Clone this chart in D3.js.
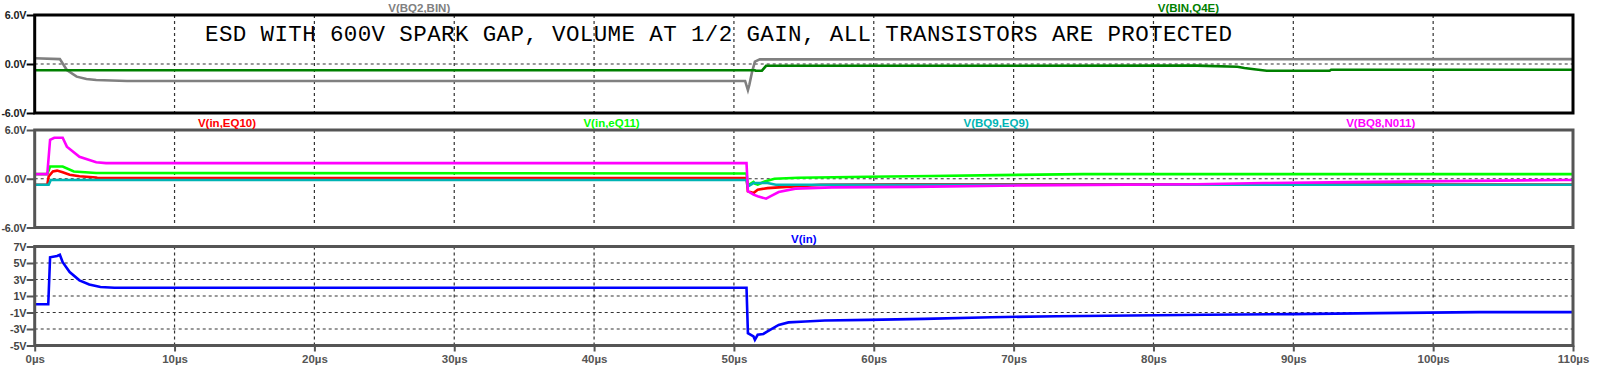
<!DOCTYPE html>
<html><head><meta charset="utf-8">
<script src="https://cdn.jsdelivr.net/npm/d3@7"></script>
<style>
html,body{margin:0;padding:0;background:#fff;}
svg{display:block;}
</style></head>
<body>
<svg id="c" width="1600" height="385"></svg>
<script>
// ---------- DATA ----------
const title = "ESD WITH 600V SPARK GAP, VOLUME AT 1/2 GAIN, ALL TRANSISTORS ARE PROTECTED";
const xTicks = [0,10,20,30,40,50,60,70,80,90,100,110];
const xTickLabels = ["0µs","10µs","20µs","30µs","40µs","50µs","60µs","70µs","80µs","90µs","100µs","110µs"];
const pane1Ticks = [6,0,-6];
const pane1TickLabels = ["6.0V","0.0V","-6.0V"];
const pane2Ticks = [6,0,-6];
const pane2TickLabels = ["6.0V","0.0V","-6.0V"];
const pane3Ticks = [7,5,3,1,-1,-3,-5];
const pane3TickLabels = ["7V","5V","3V","1V","-1V","-3V","-5V"];

// V(BQ2,BIN)
const tBQ2 = [0,1.8,2.3,3.0,3.7,4.4,6.6,50.8,51.0,51.1,51.3,51.5,51.85,110];
const vBQ2 = [0.7,0.6,-0.73,-1.55,-1.84,-1.96,-2.08,-2.08,-3.2,-2.57,-0.94,0.29,0.57,0.6];
// V(BIN,Q4E)
const tBIN = [0,51.5,51.55,52.0,52.3,83.1,86.0,86.5,87.2,88.1,92.6,92.7,110];
const vBIN = [-0.77,-0.77,-0.82,-0.82,-0.22,-0.2,-0.33,-0.5,-0.65,-0.82,-0.82,-0.7,-0.7];
// V(in,EQ10)
const tEQ10 = [0,0.9,1.0,1.3,1.6,2.0,2.5,3.2,4.4,4.5,50.9,51.0,51.4,51.7,52.4,54.3,56.2,62,110];
const vEQ10 = [-0.73,-0.73,0.3,0.9,1.0,0.8,0.5,0.3,0.15,0.08,0.08,-1.55,-1.75,-1.35,-1.15,-0.94,-0.75,-0.68,-0.7];
// V(in,eQ11)
const tEQ11 = [0,0.9,1.1,2.0,2.8,4.4,50.9,51.0,51.4,51.5,51.7,52.2,52.9,54.6,59.6,64.1,68.9,75,110];
const vEQ11 = [0.57,0.57,1.5,1.5,0.9,0.7,0.65,-0.82,-0.4,-0.6,-0.73,-0.33,0.0,0.12,0.24,0.33,0.45,0.57,0.57];
// V(BQ9,EQ9)
const tEQ9 = [0,1.0,1.15,50.9,51.0,51.4,52.4,53,110];
const vEQ9 = [-0.73,-0.73,-0.16,-0.16,-0.94,-0.53,-0.53,-0.73,-0.73];
// V(BQ8,N011)
const tN011 = [0,0.9,1.1,1.4,2.0,2.3,3.2,4.4,5.1,50.9,51.0,51.4,51.7,52.3,52.6,53.2,54.4,57.0,62.9,70.7,83.1,87.9,94.1,101,109.3,110];
const vN011 = [0.57,0.57,4.8,5.05,5.05,3.95,2.7,2.04,1.92,1.92,-1.55,-1.96,-2.16,-2.45,-2.16,-1.63,-1.22,-1.06,-1.0,-0.82,-0.68,-0.53,-0.41,-0.29,-0.16,-0.16];
// V(in)
const tIn = [0,0.97,1.1,1.6,1.8,2.0,2.5,3.2,3.9,4.7,5.7,50.9,51.0,51.4,51.5,51.7,52.1,52.4,53.2,53.9,55.1,56.5,59.6,63.6,68.4,73.1,83.8,89.9,96.1,103.3,110];
const vIn = [0,0,5.7,5.85,6.0,5.1,3.9,2.9,2.4,2.1,2.0,2.0,-3.5,-3.9,-4.3,-3.7,-3.6,-3.3,-2.5,-2.2,-2.1,-1.97,-1.89,-1.77,-1.57,-1.45,-1.28,-1.2,-1.08,-0.96,-0.96];

// ---------- LAYOUT ----------
const svg = d3.select("#c");
const X0 = 34.7, X1 = 1573;
const x = d3.scaleLinear().domain([0,110]).range([X0,X1]);
const panes = [
  {top:15, bot:113, dom:[-6,6], ticks:pane1Ticks, labels:pane1TickLabels, hgrid:[0], border:"#000", lab:"#222",
   series:[{name:"V(BQ2,BIN)", t:tBQ2, v:vBQ2, c:"#808080"},{name:"V(BIN,Q4E)", t:tBIN, v:vBIN, c:"#008000"}]},
  {top:130, bot:227.5, dom:[-6,6], ticks:pane2Ticks, labels:pane2TickLabels, hgrid:[0], border:"#555", lab:"#444",
   series:[{name:"V(in,EQ10)", t:tEQ10, v:vEQ10, c:"#ff0000"},{name:"V(in,eQ11)", t:tEQ11, v:vEQ11, c:"#00ff00"},
           {name:"V(BQ9,EQ9)", t:tEQ9, v:vEQ9, c:"#00b4b4"},{name:"V(BQ8,N011)", t:tN011, v:vN011, c:"#ff00ff"}]},
  {top:246.5, bot:345.5, dom:[-5,7], ticks:pane3Ticks, labels:pane3TickLabels, hgrid:[5,3,1,-1,-3], border:"#555", lab:"#444",
   series:[{name:"V(in)", t:tIn, v:vIn, c:"#0000ff"}]}
];

const font = "'Liberation Sans', Arial, sans-serif";

panes.forEach((p,i) => {
  const y = d3.scaleLinear().domain(p.dom).range([p.bot,p.top]);
  const g = svg.append("g");
  const clipId = "clip"+i;
  svg.append("clipPath").attr("id",clipId).append("rect")
    .attr("x",X0).attr("y",p.top).attr("width",X1-X0).attr("height",p.bot-p.top);

  // vertical grid
  g.selectAll(".vg").data(xTicks.slice(1,-1)).enter().append("line")
    .attr("x1",d=>x(d)).attr("x2",d=>x(d)).attr("y1",p.top).attr("y2",p.bot)
    .attr("stroke","#333").attr("stroke-width",1.2).attr("stroke-dasharray","3,3");
  // horizontal grid
  g.selectAll(".hg").data(p.hgrid).enter().append("line")
    .attr("x1",X0).attr("x2",X1).attr("y1",d=>y(d)).attr("y2",d=>y(d))
    .attr("stroke","#333").attr("stroke-width",1.2).attr("stroke-dasharray","3,3");

  // series
  const line = d3.line().x(d=>x(d[0])).y(d=>y(d[1]));
  p.series.forEach(s => {
    g.append("path").datum(d3.zip(s.t,s.v)).attr("d",line)
      .attr("fill","none").attr("stroke",s.c).attr("stroke-width",2.6)
      .attr("stroke-linejoin","miter").attr("clip-path",`url(#${clipId})`);
  });

  // border
  g.append("rect").attr("x",X0).attr("y",p.top).attr("width",X1-X0).attr("height",p.bot-p.top)
    .attr("fill","none").attr("stroke",p.border).attr("stroke-width",3);

  // y axis ticks + labels
  const ya = d3.axisLeft(y).tickValues(p.ticks).tickFormat((d,k)=>p.labels[k]).tickSize(8).tickPadding(0.5);
  const ag = svg.append("g").attr("transform",`translate(${X0},0)`).call(ya);
  ag.select(".domain").remove();
  ag.selectAll(".tick line").attr("stroke",p.border).attr("stroke-width",2);
  ag.selectAll(".tick text").attr("fill",p.lab).style("font-family",font)
    .style("font-size","10.8px").style("font-weight","bold").attr("dy","0.36em")
    .attr("letter-spacing","-0.2");

  // trace labels above pane
  const n = p.series.length;
  p.series.forEach((s,k) => {
    svg.append("text").attr("x", X0 + (X1-X0)*(2*k+1)/(2*n)).attr("y", p.top-3.5)
      .attr("text-anchor","middle").attr("fill",s.c)
      .style("font-family",font).style("font-size","11.5px").style("font-weight","bold")
      .text(s.name);
  });

  if (i===2) {
    const xa = d3.axisBottom(x).tickValues(xTicks).tickFormat((d,k)=>xTickLabels[k]).tickSize(6).tickPadding(3);
    const xg = svg.append("g").attr("transform",`translate(0,${p.bot})`).call(xa);
    xg.select(".domain").remove();
    xg.selectAll(".tick line").attr("stroke","#555").attr("stroke-width",2);
    xg.selectAll(".tick text").attr("fill","#555").style("font-family",font)
      .style("font-size","11.5px").style("font-weight","bold");
  }
});

// title text in pane 1
svg.append("text").attr("x",205).attr("y",41)
  .attr("textLength",1027).attr("lengthAdjust","spacing")
  .style("font-family","'Liberation Mono', 'DejaVu Sans Mono', monospace")
  .style("font-size","22.5px").attr("fill","#000")
  .text(title);
</script>
</body></html>
